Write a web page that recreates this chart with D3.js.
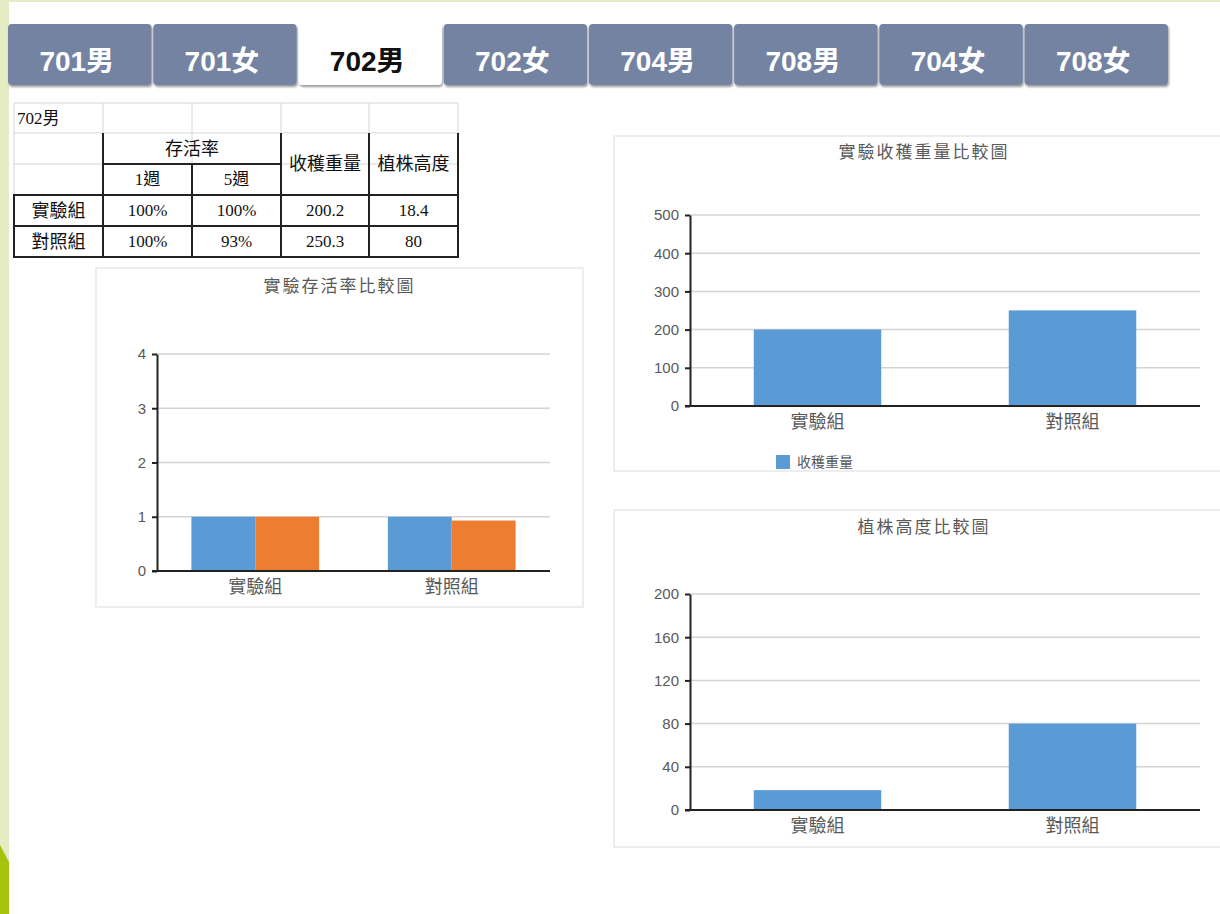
<!DOCTYPE html>
<html>
<head>
<meta charset="utf-8">
<script src="https://cdn.jsdelivr.net/npm/d3@7/dist/d3.min.js"></script>
<style>
  html, body { margin: 0; padding: 0; background: #ffffff; }
  svg { display: block; }
</style>
</head>
<body>
<svg id="chart" width="1220" height="914"></svg>
<script>
// ---------------- data ----------------
const tabs = ["701男", "701女", "702男", "702女", "704男", "708男", "704女", "708女"];
const activeTab = "702男";

const categories = ["實驗組", "對照組"];
const survivalWeek1 = [1, 1];        // 100%, 100%
const survivalWeek5 = [1, 0.93];     // 100%, 93%
const harvestWeight = [200.2, 250.3];
const plantHeight = [18.4, 80];

const survivalTicks = [0, 1, 2, 3, 4];
const weightTicks = [0, 100, 200, 300, 400, 500];
const heightTicks = [0, 40, 80, 120, 160, 200];

const tableTitle = "702男";
const tableHeaderGroup = "存活率";
const tableWeeks = ["1週", "5週"];
const tableHeaderWeight = "收穫重量";
const tableHeaderHeight = "植株高度";
const tableRows = [
  ["實驗組", "100%", "100%", "200.2", "18.4"],
  ["對照組", "100%", "93%", "250.3", "80"]
];

const titleSurvival = "實驗存活率比較圖";
const titleWeight = "實驗收穫重量比較圖";
const titleHeight = "植株高度比較圖";
const legendWeight = "收穫重量";

// ---------------- styles ----------------
const BLUE = "#5b9bd5", ORANGE = "#ed7d31";
const GREY_TEXT = "#595959";
const SANS = "'Liberation Sans', Arial, 'Noto Sans CJK TC', sans-serif";
const SERIF = "'Liberation Serif', 'Times New Roman', 'Noto Sans CJK TC', serif";

const svg = d3.select("#chart");

const defs = svg.append("defs");
const f = defs.append("filter").attr("id", "tabShadow").attr("x", "-10%").attr("y", "-10%").attr("width", "125%").attr("height", "140%");
f.append("feDropShadow").attr("dx", 1).attr("dy", 2).attr("stdDeviation", 1.3).attr("flood-color", "#000").attr("flood-opacity", 0.4);

// ---------------- page decoration ----------------
svg.append("rect").attr("x", 0).attr("y", 0).attr("width", 1220).attr("height", 2).attr("fill", "#e3ecc3");
svg.append("rect").attr("x", 0).attr("y", 0).attr("width", 9).attr("height", 914).attr("fill", "#e3ecc3");
svg.append("path").attr("d", "M0,845 L9,862 L9,914 L0,914 Z").attr("fill", "#a4c30a");

// ---------------- tabs ----------------
const tabX = d3.scaleBand().domain(tabs).range([8, 1168]).paddingInner(0.012).paddingOuter(0);
const tabG = svg.append("g");
tabs.forEach(t => {
  const active = t === activeTab;
  tabG.append("rect")
    .attr("x", tabX(t)).attr("y", 24)
    .attr("width", tabX.bandwidth()).attr("height", 61)
    .attr("rx", 4)
    .attr("fill", active ? "#ffffff" : "#7583a3")
    .attr("filter", "url(#tabShadow)");
  tabG.append("text")
    .attr("x", tabX(t) + tabX.bandwidth() / 2 - 3).attr("y", 71)
    .attr("text-anchor", "middle")
    .attr("font-family", SANS).attr("font-weight", "bold").attr("font-size", 28)
    .attr("fill", active ? "#111111" : "#ffffff")
    .text(t);
});

// ---------------- table ----------------
const colX = [14, 103, 192, 281, 369, 458];
const rowY = [103, 133, 164, 195, 226, 257];
const tg = svg.append("g");
const light = "#d6d6d6", dark = "#222222";
function line(x1, y1, x2, y2, c, w) {
  tg.append("line").attr("x1", x1).attr("y1", y1).attr("x2", x2).attr("y2", y2)
    .attr("stroke", c).attr("stroke-width", w);
}
rowY.slice(0, 4).forEach(y => line(colX[0], y, colX[5], y, light, 1));
colX.forEach(x => line(x, rowY[0], x, rowY[3], light, 1));
line(colX[1], rowY[2], colX[3], rowY[2], dark, 2);
[rowY[3], rowY[4], rowY[5]].forEach(y => line(colX[0] - 1, y, colX[5] + 1, y, dark, 2));
line(colX[0], rowY[3], colX[0], rowY[5], dark, 2);
line(colX[1], rowY[1], colX[1], rowY[5], dark, 2);
line(colX[2], rowY[2], colX[2], rowY[5], dark, 2);
line(colX[3], rowY[1], colX[3], rowY[5], dark, 2);
line(colX[4], rowY[1], colX[4], rowY[5], dark, 2);
line(colX[5], rowY[1], colX[5], rowY[5], dark, 2);

function cell(txt, x, y, anchor, size) {
  tg.append("text").attr("x", x).attr("y", y)
    .attr("text-anchor", anchor || "middle").attr("dominant-baseline", "central")
    .attr("font-family", SERIF).attr("font-size", size || 17).attr("fill", "#111")
    .text(txt);
}
const cx = i => (colX[i] + colX[i + 1]) / 2;
const cy = i => (rowY[i] + rowY[i + 1]) / 2;
cell(tableTitle, 17, cy(0), "start", 17);
cell(tableHeaderGroup, (colX[1] + colX[3]) / 2, cy(1), "middle", 18);
cell(tableWeeks[0], cx(1), cy(2), "middle", 17);
cell(tableWeeks[1], cx(2), cy(2), "middle", 17);
cell(tableHeaderWeight, cx(3), rowY[2], "middle", 18);
cell(tableHeaderHeight, cx(4), rowY[2], "middle", 18);
tableRows.forEach((r, ri) => {
  r.forEach((v, ci) => cell(v, cx(ci), cy(3 + ri), "middle", ci === 0 ? 18 : 17));
});

// ---------------- bar chart helper ----------------
function barChart(cfg) {
  const g = svg.append("g");
  g.append("rect").attr("x", cfg.box[0]).attr("y", cfg.box[1])
    .attr("width", cfg.box[2]).attr("height", cfg.box[3])
    .attr("fill", "#fff").attr("stroke", "#e8e8e8").attr("stroke-width", 1.5);
  g.append("text").attr("x", cfg.box[0] + cfg.box[2] / 2).attr("y", cfg.titleY)
    .attr("text-anchor", "middle").attr("dominant-baseline", "central")
    .attr("font-family", SANS).attr("font-size", 17).attr("fill", GREY_TEXT)
    .attr("letter-spacing", 2)
    .text(cfg.title);

  const x0 = d3.scaleBand().domain(categories).range([cfg.plot[0], cfg.plot[1]])
    .paddingInner(cfg.pad).paddingOuter(cfg.pad / 2);
  const y = d3.scaleLinear().domain([0, d3.max(cfg.ticks)]).range([cfg.plot[3], cfg.plot[2]]);
  const x1 = d3.scaleBand().domain(d3.range(cfg.series.length)).range([0, x0.bandwidth()]);

  g.append("g").selectAll("line").data(cfg.ticks.filter(t => t > 0)).join("line")
    .attr("x1", cfg.plot[0]).attr("x2", cfg.plot[1])
    .attr("y1", d => y(d)).attr("y2", d => y(d))
    .attr("stroke", "#d4d4d4").attr("stroke-width", 1.5);

  cfg.series.forEach((s, si) => {
    g.append("g").selectAll("rect").data(categories).join("rect")
      .attr("x", (c) => x0(c) + x1(si))
      .attr("width", x1.bandwidth())
      .attr("y", (c, i) => y(s.values[i]))
      .attr("height", (c, i) => y(0) - y(s.values[i]))
      .attr("fill", s.color);
  });

  const ya = g.append("g").attr("transform", `translate(${cfg.plot[0]},0)`)
    .call(d3.axisLeft(y).tickValues(cfg.ticks).tickFormat(d3.format("d"))
      .tickSize(5).tickPadding(6).tickSizeOuter(0));
  ya.select(".domain").attr("stroke", "#222").attr("stroke-width", 2);
  ya.selectAll(".tick line").attr("stroke", "#222").attr("stroke-width", 2);
  ya.selectAll(".tick text").attr("font-family", SANS).attr("font-size", 15).attr("fill", GREY_TEXT);

  const xa = g.append("g").attr("transform", `translate(0,${cfg.plot[3]})`)
    .call(d3.axisBottom(x0).tickSize(0).tickPadding(8).tickSizeOuter(0));
  xa.select(".domain").attr("stroke", "#222").attr("stroke-width", 2)
    .attr("d", `M${cfg.plot[0] - 5},0H${cfg.plot[1]}`);
  xa.selectAll(".tick text").attr("font-family", SANS).attr("font-size", 18).attr("fill", GREY_TEXT)
    .attr("dy", "0.75em");

  if (cfg.legend) {
    const lg = g.append("g");
    lg.append("rect").attr("x", cfg.legend[0]).attr("y", cfg.legend[1]).attr("width", 14).attr("height", 14).attr("fill", cfg.series[0].color);
    lg.append("text").attr("x", cfg.legend[0] + 21).attr("y", cfg.legend[1] + 7)
      .attr("dominant-baseline", "central")
      .attr("font-family", SANS).attr("font-size", 14).attr("fill", GREY_TEXT)
      .text(cfg.legendText);
  }
}

barChart({
  box: [96, 268, 487, 339],
  title: titleSurvival, titleY: 286,
  plot: [157, 550, 354, 571],
  ticks: survivalTicks,
  pad: 0.35,
  series: [{ values: survivalWeek1, color: BLUE }, { values: survivalWeek5, color: ORANGE }]
});

barChart({
  box: [614, 136, 620, 335],
  title: titleWeight, titleY: 152,
  plot: [690, 1200, 215, 406],
  ticks: weightTicks,
  pad: 0.5,
  series: [{ values: harvestWeight, color: BLUE }],
  legend: [776, 455], legendText: legendWeight
});

barChart({
  box: [614, 510, 620, 337],
  title: titleHeight, titleY: 527,
  plot: [690, 1200, 594, 810],
  ticks: heightTicks,
  pad: 0.5,
  series: [{ values: plantHeight, color: BLUE }]
});
</script>
</body>
</html>
